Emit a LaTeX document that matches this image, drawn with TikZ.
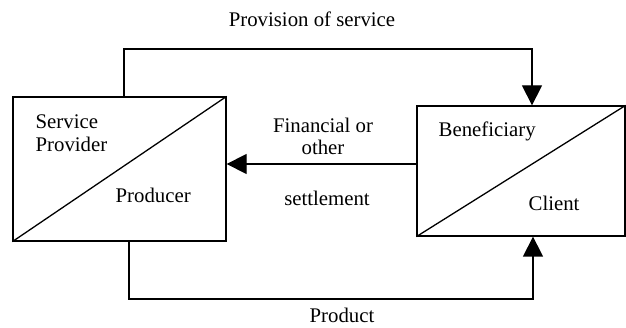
\documentclass[tikz,border=0pt]{standalone}
\usepackage{fontspec}
\setmainfont{Liberation Serif}
\usepackage{tikz}
\usetikzlibrary{positioning}
\usetikzlibrary{arrows.meta}

\begin{document}
\begin{tikzpicture}[
	x=1pt, y=-1pt,
	line width=1.3pt,
	font=\fontsize{20.8}{24}\selectfont
]
\tikzset{
    rolebox/.style = {rectangle, draw=black, inner sep=0pt},
		flow/.style = {-{Triangle[length=20pt,width=20pt]}},
		label/.style = {draw=none, inner sep=0pt, align=left, anchor=base west}
}
\useasboundingbox (0,0) rectangle (626,328);
% the two parties
\node[rolebox, minimum width=213pt, minimum height=144pt] (L) at (119.5,169) {};
\node[rolebox, minimum width=208pt, minimum height=130pt] (R) at (521,171) {};
\draw (L.south west) -- (L.north east);
\draw (R.south west) -- (R.north east);
\node[label] (sp) at (35,152) {Service\\[-1pt]Provider};
\node[label] (prod) at (115,203) {Producer};
\node[label] (ben) at (438,137) {Beneficiary};
\node[label] (cli) at (528,211) {Client};
% connectors
\coordinate (tl) at (124,49);
\coordinate (tr) at (532,49);
\coordinate (bl) at (129,299);
\coordinate (br) at (533,299);
\coordinate (mid) at (320,164);
\draw[flow] (L.north -| tl) -- (tl) -- (tr) -- (R.north -| tr);
\draw[flow] (L.south -| bl) -- (bl) -- (br) -- (R.south -| br);
\draw[flow] (R.west |- mid) -- (L.east |- mid);
\node[label, anchor=base] (prov) at (312,27) {Provision of service};
\node[label, anchor=base] (pr) at (342,323) {Product};
\node[label, anchor=base, align=center] (fin) at (323,155) {Financial or\\[-2pt]other};
\node[label, anchor=base] (set) at (327,206) {settlement};
\end{tikzpicture}
\end{document}
